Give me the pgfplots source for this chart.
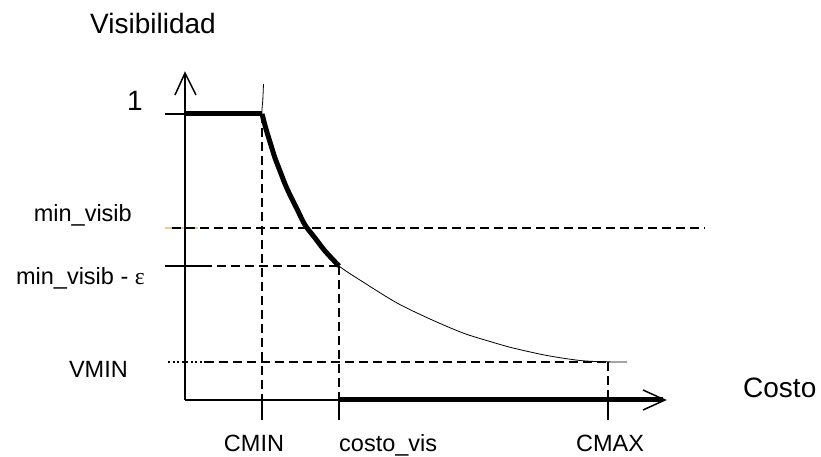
\documentclass[border=0pt]{standalone}
\usepackage{fontspec}
\setmainfont{Liberation Sans}
\newfontfamily\greekserif{Liberation Serif}
\usepackage{pgfplots}
\pgfplotsset{compat=1.18}
\definecolor{tickorange}{RGB}{248,196,150}
\begin{document}
\begin{tikzpicture}[
  dashedline/.style={line width=1.4pt, dash pattern=on 9pt off 5pt},
  biglbl/.style={font=\fontsize{28}{30}\selectfont, inner sep=0pt},
  smalllbl/.style={font=\fontsize{23.5}{25}\selectfont, inner sep=0pt},
]
\begin{axis}[
  width=821pt, height=455pt, scale only axis,
  xmin=-185, xmax=636, ymin=-55, ymax=400,
  axis lines=none, clip=false,
  every axis plot/.append style={black, line cap=butt},
]
% levels: 1 = 286, min_visib = 172, min_visib - eps = 134, VMIN = 38
% costs: CMIN = 77, costo_vis = 154, CMAX = 423

% reference lines
\addplot[tickorange, line width=1.6pt] coordinates {(-20,172) (13,172)};
\addplot[dashedline] coordinates {(-13,172) (520,172)};
\addplot[line width=1.4pt] coordinates {(-20,134) (18,134)};
\addplot[dashedline] coordinates {(18,134) (154,134)};
\addplot[line width=1.2pt, dash pattern=on 2pt off 2.5pt] coordinates {(-17,38) (20,38)};
\addplot[dashedline] coordinates {(20,38) (423,38)};
\addplot[dashedline] coordinates {(77,286) (77,0)};
\addplot[dashedline] coordinates {(154,134) (154,0)};
\addplot[dashedline] coordinates {(423,38) (423,0)};
% ticks below the cost axis
\addplot[line width=1.4pt] coordinates {(77,0) (77,-20)};
\addplot[line width=1.4pt] coordinates {(154,0) (154,-20)};
\addplot[line width=1.4pt] coordinates {(423,0) (423,-20)};
\addplot[line width=1.4pt] coordinates {(-20,286) (0,286)};

% axes with open arrowheads
\addplot[line width=1.5pt] coordinates {(0,0) (0,327)};
\addplot[line width=1.5pt, line join=miter] coordinates {(-10,305) (0,327) (11,305)};
\addplot[line width=1.5pt] coordinates {(0,0) (480,0)};
\addplot[line width=1.5pt, line join=miter] coordinates {(458,10) (480,0) (458,-10)};

% visibility as a function of cost
\addplot[line width=0.8pt, smooth] coordinates {
  (78.5,316) (77.8,300) (77,286) (81,271) (85,258) (90,242) (95,229) (100,216)
  (105,205) (112,191) (120,175) (130,162) (140,149) (154,134) (178,118)
  (212,97) (245,81) (278,67) (305,58.5) (328,52) (362,44.5) (395,39.5) (420,38.2) (442,38)};
\addplot[line width=5pt, line join=miter] coordinates {(0,286) (77,286)};
\addplot[line width=5pt, smooth] coordinates {
  (77,286) (81,271) (85,258) (90,242) (95,229) (100,216) (105,205)
  (112,191) (120,175) (130,162) (140,149) (154,134)};
\addplot[line width=5pt] coordinates {(154,0) (478,0)};

% labels
\node[biglbl, anchor=base west] at (axis cs:-95,366) {Visibilidad};
\node[biglbl, anchor=base west] at (axis cs:558,2) {Costo};
\node[biglbl, anchor=base east] at (axis cs:-42,289) {1};
\node[smalllbl, anchor=base east] at (axis cs:-53,178) {min\_visib};
\node[smalllbl, anchor=base east] at (axis cs:-40,115) {min\_visib - {\greekserif ε}};
\node[smalllbl, anchor=base east] at (axis cs:-57,22) {VMIN};
\node[smalllbl, anchor=base] at (axis cs:69,-52) {CMIN};
\node[smalllbl, anchor=base west] at (axis cs:154,-52) {costo\_vis};
\node[smalllbl, anchor=base] at (axis cs:425,-52) {CMAX};
\end{axis}
% the page is exactly the plotting area
\useasboundingbox (current axis.south west) rectangle (current axis.north east);
\end{tikzpicture}
\end{document}
